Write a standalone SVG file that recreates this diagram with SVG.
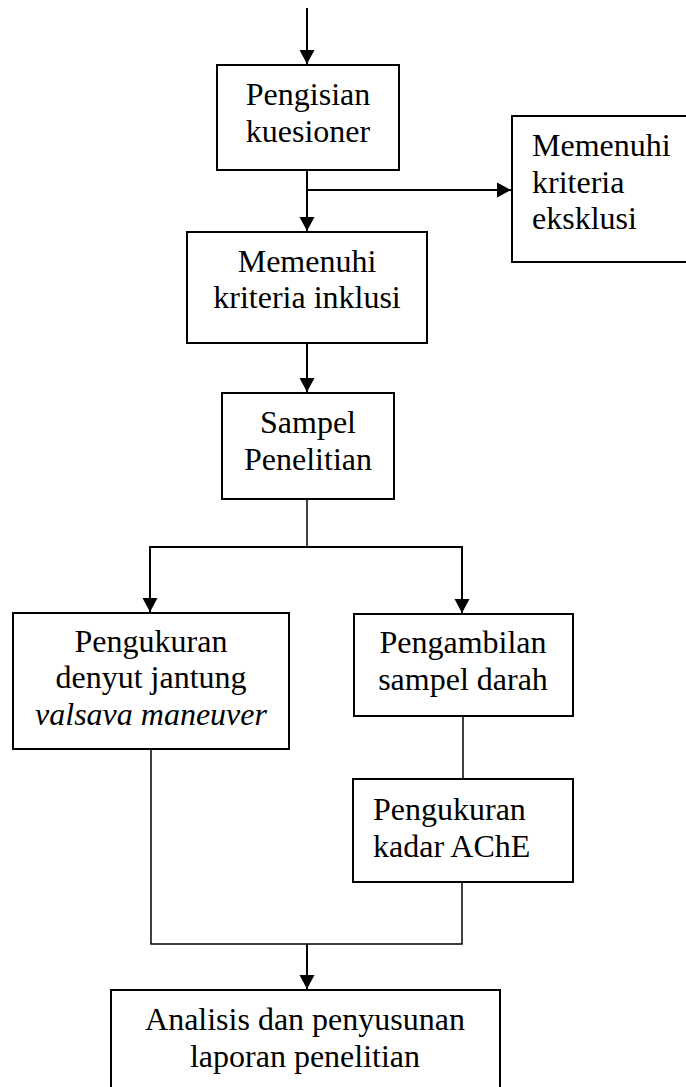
<svg xmlns="http://www.w3.org/2000/svg" width="686" height="1087" viewBox="0 0 686 1087">
<style>
.box{fill:#fff;stroke:#000;stroke-width:2}
.t{font-family:"Liberation Serif","Times New Roman",serif;font-size:32px;fill:#000}
.c{text-anchor:middle}
.arr{fill:none;stroke:#000;stroke-width:2}
.ln{fill:none;stroke:#000;stroke-width:1.5}
</style>
<defs>
<marker id="ah" markerUnits="userSpaceOnUse" markerWidth="16" markerHeight="16" viewBox="0 0 16 16" refX="14" refY="8" orient="auto">
<path d="M0,0.5 L14,8 L0,15.5 Z" fill="#000"/>
</marker>
</defs>
<g id="connectors">
<line class="arr" x1="307" y1="8" x2="307" y2="64" marker-end="url(#ah)"/>
<line class="arr" x1="307" y1="171" x2="307" y2="231" marker-end="url(#ah)"/>
<line class="arr" x1="307" y1="190" x2="511" y2="190" marker-end="url(#ah)"/>
<line class="arr" x1="307" y1="344" x2="307" y2="392" marker-end="url(#ah)"/>
<line class="ln" x1="307" y1="500" x2="307" y2="547"/>
<line class="arr" x1="149" y1="547" x2="463" y2="547"/>
<line class="arr" x1="150" y1="547" x2="150" y2="612" marker-end="url(#ah)"/>
<line class="arr" x1="462" y1="547" x2="462" y2="613" marker-end="url(#ah)"/>
<line class="ln" x1="463" y1="717" x2="463" y2="779"/>
<polyline class="ln" points="151,750 151,944 462,944 462,883"/>
<line class="arr" x1="307" y1="944" x2="307" y2="989" marker-end="url(#ah)"/>
</g>
<g id="n1"><rect class="box" x="217" y="65" width="182" height="105"/>
<text class="t c" x="308" y="105">Pengisian</text><text class="t c" x="308" y="142">kuesioner</text></g>
<g id="n2"><rect class="box" x="512" y="116" width="180" height="146"/>
<text class="t" x="532" y="156">Memenuhi</text><text class="t" x="532" y="193">kriteria</text><text class="t" x="532" y="229">eksklusi</text></g>
<g id="n3"><rect class="box" x="187" y="232" width="240" height="111"/>
<text class="t c" x="307" y="272">Memenuhi</text><text class="t c" x="307" y="308">kriteria inklusi</text></g>
<g id="n4"><rect class="box" x="222" y="393" width="172" height="106"/>
<text class="t c" x="308" y="433">Sampel</text><text class="t c" x="308" y="470">Penelitian</text></g>
<g id="n5"><rect class="box" x="13" y="613" width="276" height="136"/>
<text class="t c" x="151" y="652">Pengukuran</text><text class="t c" x="151" y="688">denyut jantung</text><text class="t c" x="151" y="725" font-style="italic">valsava maneuver</text></g>
<g id="n6"><rect class="box" x="354" y="614" width="219" height="102"/>
<text class="t c" x="463" y="653">Pengambilan</text><text class="t c" x="463" y="690">sampel darah</text></g>
<g id="n7"><rect class="box" x="353" y="779" width="220" height="103"/>
<text class="t" x="373" y="820">Pengukuran</text><text class="t" x="373" y="857">kadar AChE</text></g>
<g id="n8"><rect class="box" x="111" y="990" width="389" height="120"/>
<text class="t c" x="305" y="1030">Analisis dan penyusunan</text><text class="t c" x="305" y="1067">laporan penelitian</text></g>
</svg>
